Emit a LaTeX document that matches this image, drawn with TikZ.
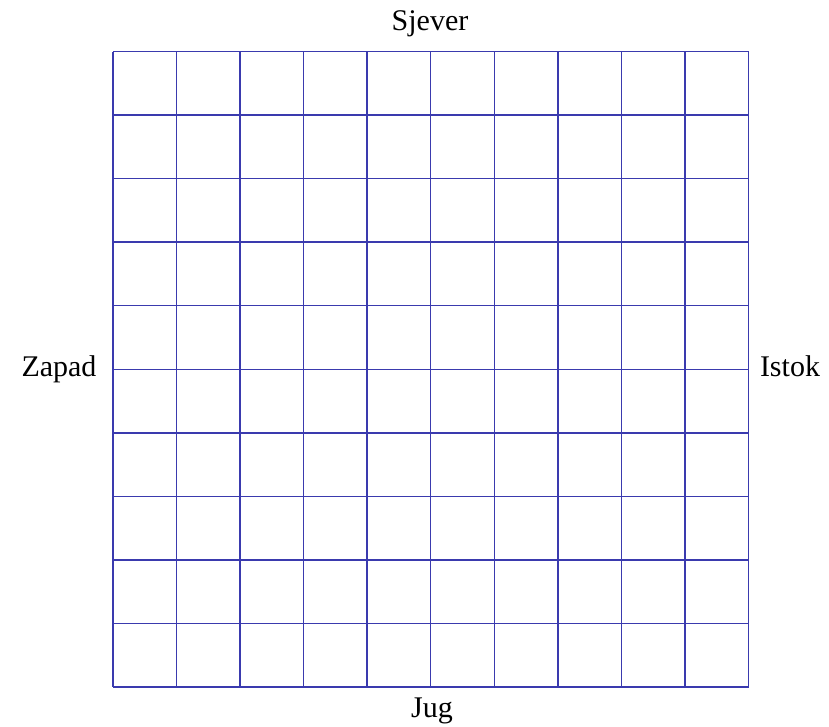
\documentclass[tikz,border=0pt]{standalone}
\usepackage{fontspec}
\setmainfont{Liberation Serif}
\definecolor{gridblue}{HTML}{3A3AAE}
\tikzset{
  gridline/.style={draw=gridblue, line width=1.1pt},
  dirlabel/.style={font=\fontsize{22.5pt}{27pt}\selectfont, inner sep=0pt, anchor=base}
}
\begin{document}
\begin{tikzpicture}[x=0.75pt, y=-0.75pt]
\useasboundingbox (0,0) rectangle (829,726);
\foreach \i in {0,...,10}{
  \draw[gridline] ({113+\i*63.55},51.5) -- ({113+\i*63.55},687);
  \draw[gridline] (113,{51.5+\i*63.55}) -- (748.5,{51.5+\i*63.55});
}
\node[dirlabel] (n) at (430,30) {Sjever};
\node[dirlabel] (s) at (432,717) {Jug};
\node[dirlabel] (w) at (59,376) {Zapad};
\node[dirlabel] (e) at (790,376) {Istok};
\end{tikzpicture}
\end{document}
